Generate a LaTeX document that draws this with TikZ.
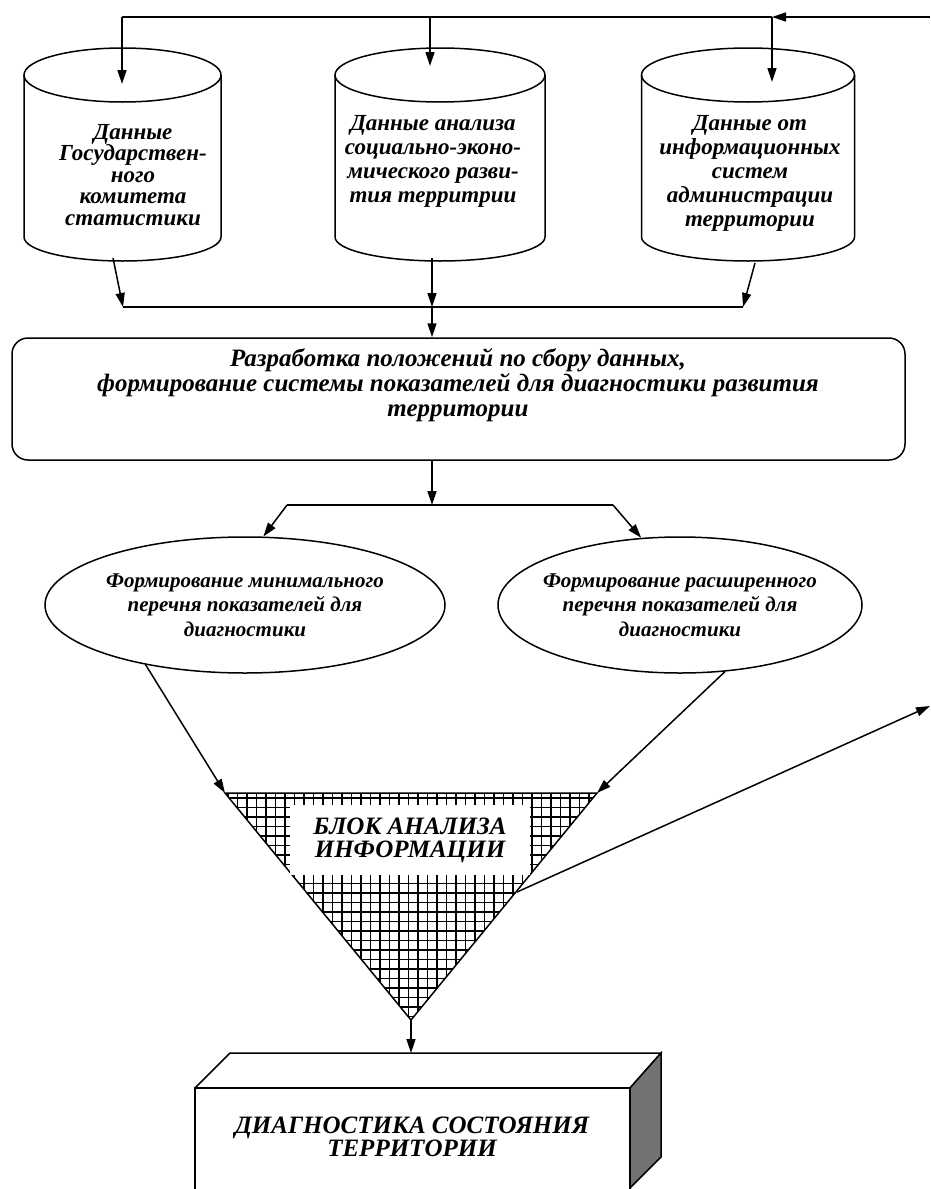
\documentclass[tikz,border=0pt]{standalone}
\usepackage{fontspec}
\setmainfont{Liberation Serif}
\usetikzlibrary{arrows.meta,shapes.geometric,positioning}
% drum(centre x, half width): one data store
\def\drum(#1,#2){\draw[line width=1.5pt] (#1,75) ellipse [x radius=#2pt, y radius=27pt];
  \draw[line width=1.5pt] (#1-#2,75) -- (#1-#2,237) arc[start angle=180, end angle=360, x radius=#2pt, y radius=24pt] -- (#1+#2,75);}
\tikzset{
  flow/.style={line width=1.5pt},
  arr/.style={flow, -{Triangle[length=14pt,width=9pt]}},
  txt/.style={font=\bfseries\itshape, align=center, inner sep=0pt},
  listbox/.style={draw, flow, ellipse, txt, inner xsep=-40pt, inner ysep=-10pt, minimum height=136pt, font=\bfseries\itshape\fontsize{21}{24.5}\selectfont},
}

\begin{document}
\begin{tikzpicture}[x=1pt,y=-1pt]
			%%%%% START %%%%%
			\useasboundingbox[fill=white] (0,0) rectangle (930,1189);
			
			\drum(122.5,98.5)
			\drum(440,105)
			\drum(748,106.5)
			\node[txt, font=\bfseries\itshape\fontsize{23}{21.5}\selectfont] (gks) at (133,175) {Данные\\Государствен-\\ного\\комитета\\статистики};
			\node[txt, font=\bfseries\itshape\fontsize{23}{24}\selectfont] (sed) at (433,161) {Данные анализа\\социально-эконо-\\мического разви-\\тия территрии};
			\node[txt, font=\bfseries\itshape\fontsize{23}{24}\selectfont] (ais) at (750,173) {Данные от\\информационных\\систем\\администрации\\территории};
			
			\coordinate (feed) at (930,17);
			\coordinate (topL) at (122,17);
			\coordinate (topM) at (430,17);
			\coordinate (topR) at (772,17);
			\coordinate (inL) at (122,84);
			\coordinate (inM) at (430,66);
			\coordinate (inR) at (772,82);
			\draw[arr] (feed) -- (topR);
			\draw[flow] (topR) -- (topL);
			\draw[arr] (topL) -- (inL);
			\draw[arr] (topM) -- (inM);
			\draw[arr] (topR) -- (inR);
			
			\coordinate (outL) at (113,258);
			\coordinate (outM) at (432,258);
			\coordinate (outR) at (755,263);
			\coordinate (busL) at (123,307);
			\coordinate (busM) at (432,307);
			\coordinate (busR) at (743,307);
			\draw[arr] (outL) -- (busL);
			\draw[arr] (outM) -- (busM);
			\draw[arr] (outR) -- (busR);
			\draw[flow] (busL) -- (busR);
			
			\node[draw, flow, rounded corners=16pt, minimum width=893pt, minimum height=122pt] (rules) at (458.5,399) {};
			\node[txt, font=\bfseries\itshape\fontsize{25}{25}\selectfont] (rulestxt) at (458,385) {Разработка положений по сбору данных,\\формирование системы показателей для диагностики развития\\территории};
			\draw[arr] (busM) -- (busM |- rules.north);
			
			\coordinate (fork) at (432,505);
			\coordinate (forkL) at (287,505);
			\coordinate (forkR) at (613,505);
			\draw[arr] (busM |- rules.south) -- (fork);
			\draw[flow] (forkL) -- (forkR);
			
			\node[listbox, minimum width=400pt] (minlist) at (245,605) {Формирование минимального\\перечня показателей для\\диагностики};
			\node[listbox, minimum width=364pt] (extlist) at (680,605) {Формирование расширенного\\перечня показателей для\\диагностики};
			\draw[arr] (forkL) -- (minlist.75);
			\draw[arr] (forkR) -- (extlist.120);
			
			% analysis block
			\coordinate (triL) at (225,793);
			\coordinate (triR) at (597,793);
			\coordinate (triB) at (411,1020);
			\begin{scope}
				\clip (triL) -- (triR) -- (triB) -- cycle;
				\draw[line width=1.5pt] (220,1025) grid[step=9.5pt] (600,790);
			\end{scope}
			\draw[flow, line join=miter] (triL) -- (triR) -- (triB) -- cycle;
			\node[fill=white, minimum width=240pt, minimum height=70pt, txt, font=\bfseries\itshape\fontsize{25}{23}\selectfont] (blk) at (410,840) {БЛОК АНАЛИЗА\\ИНФОРМАЦИИ};
			\draw[arr] (minlist.211) -- (triL);
			\draw[arr] (extlist.304) -- (triR);
			
			\coordinate (triOut) at (517,892);
			\coordinate (exitR) at (930,706);
			\draw[arr] (triOut) -- (exitR);
			
			% result block
			\coordinate (diagTop) at (411,1053);
			\draw[arr] (triB) -- (diagTop);
			\draw[flow, line join=miter] (195,1189) -- (195,1088) -- (630,1088) -- (630,1189);
			\draw[flow, line join=miter] (195,1088) -- (230,1053) -- (661,1053) -- (630,1088);
			\draw[flow, fill=black!55, line join=miter] (630,1088) -- (661,1053) -- (661,1157) -- (630,1188) -- cycle;
			\node[txt, font=\bfseries\itshape\fontsize{25}{23}\selectfont] (diag) at (412,1137) {ДИАГНОСТИКА СОСТОЯНИЯ\\ТЕРРИТОРИИ};
			
			%%%%% END %%%%%
\end{tikzpicture}
\end{document}
